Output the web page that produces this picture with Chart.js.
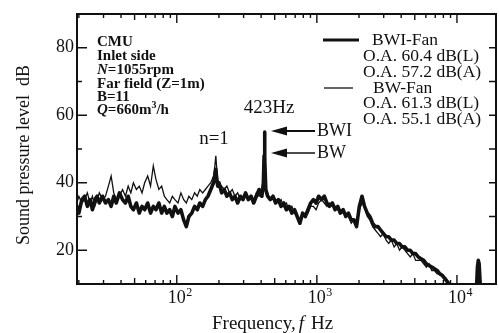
<!DOCTYPE html>
<html><head><meta charset="utf-8">
<script src="https://cdn.jsdelivr.net/npm/chart.js@4.4.1/dist/chart.umd.min.js"></script>
<style>html,body{margin:0;padding:0;background:#fff}#wrap{width:499px;height:333px}</style>
</head><body><div id="wrap"><canvas id="c" width="499" height="333"></canvas></div>
<script>
// ---- data ----
const freqs = [
  19, 20, 21, 22, 23, 24, 25, 26, 27, 28,
  29.5, 31, 32.5, 34, 35.5, 37, 39, 41, 43, 45,
  47, 49, 51.5, 54, 56.5, 59, 62, 65, 68, 71,
  74.5, 78, 81.5, 85, 89, 93, 97, 102, 107, 112,
  117, 122, 128, 134, 140, 146, 153, 160, 167, 175,
  183, 187, 190, 193, 196, 200, 209, 218, 228, 238,
  249, 260, 272, 284, 297, 310, 324, 339, 354, 370,
  387, 405, 415, 420, 423, 426, 432, 445, 465, 486,
  508, 531, 555, 580, 606, 634, 663, 693, 724, 757,
  791, 827, 864, 903, 944, 987, 1030, 1080, 1130, 1180,
  1230, 1290, 1350, 1410, 1470, 1540, 1610, 1680, 1760, 1840,
  1920, 2010, 2100, 2190, 2290, 2390, 2500, 2610, 2730, 2850,
  2980, 3120, 3260, 3400, 3560, 3720, 3890, 4060, 4250, 4440,
  4640, 4850, 5070, 5300, 5540, 5790, 6050, 6320, 6610, 6910,
  7220, 7550, 7890, 8250, 8620, 9000, 9500, 13500, 13800, 14000,
  14200, 14400, 14700, 16000
];
// BWI-Fan (thick line)
const bwiFan = [
  34, 31, 35, 36, 33, 35, 32, 35, 36, 34,
  36, 34, 35, 33, 36, 34, 37, 35, 34, 36,
  33, 32, 34, 31, 33, 32, 34, 31, 33, 32,
  34, 31, 33, 31, 32, 30, 33, 31, 32, 29,
  27, 30, 31, 33, 32, 34, 33, 35, 36, 38,
  40, 42, 44, 41, 39, 40, 37, 38, 36, 37,
  35, 36, 34, 36, 35, 37, 35, 36, 34, 36,
  38, 36, 40, 48, 55, 47, 38, 36, 35, 36,
  34, 35, 33, 34, 32, 33, 31, 32, 30, 28,
  31, 30, 32, 34, 35, 34, 36, 35, 36, 34,
  33, 34, 32, 33, 31, 32, 30, 31, 29, 29,
  27, 33, 36, 33, 31, 30, 28, 27, 27, 26,
  25, 24, 24, 23, 23, 22, 22, 21, 21, 20,
  20, 19, 19, 18, 17.5, 17, 16, 15.5, 15, 14.5,
  14, 13, 12.5, 11.5, 10.5, 9, 8, 8, 9, 15,
  17, 16, 9, 7
];
// BW-Fan (thin line)
const bwFan = [
  33, 36, 34, 35, 37, 34, 36, 33, 35, 37,
  35, 36, 39, 42, 37, 35, 36, 38, 36, 39,
  37, 40, 38, 39, 37, 40, 42, 39, 45, 41,
  38, 39, 36, 35, 34, 36, 35, 34, 37, 35,
  34, 36, 35, 37, 36, 38, 37, 38, 39, 40,
  42, 45, 48, 44, 41, 40, 39, 38, 39, 37,
  38, 36, 37, 35, 36, 37, 35, 36, 35, 37,
  36, 37, 40, 45, 49, 44, 38, 37, 35, 36,
  35, 34, 35, 33, 34, 32, 33, 31, 30, 29,
  30, 31, 31, 33, 33, 32, 34, 35, 34, 33,
  34, 33, 33, 32, 32, 31, 31, 30, 28, 29,
  29, 32, 34, 33, 30, 29, 27, 26, 25, 24,
  25, 23, 22, 23, 21, 22, 20, 21, 20, 19,
  18, 19, 17, 17, 17, 16, 15, 16, 14, 14,
  13, 13, 12, 11, 10, 9, 8, 8, 9, 13,
  16, 15, 9, 7
];
const yTickLabels = [20, 40, 60, 80];
const xTickDecades = [100, 1000, 10000];
const xTickExponents = ['2', '3', '4'];
const legendLines = [
  ['BWI-Fan', 'O.A. 60.4 dB(L)', 'O.A. 57.2 dB(A)'],
  ['BW-Fan', 'O.A. 61.3 dB(L)', 'O.A. 55.1 dB(A)']
];

const INK = '#111';
const SERIF = '"Liberation Serif", "Times New Roman", serif';

function line(ctx, x1, y1, x2, y2) { ctx.moveTo(x1, y1); ctx.lineTo(x2, y2); }

function drawSegments(ctx, segs, x, y) {
  let cx = x;
  segs.forEach(s => {
    ctx.font = s.font;
    ctx.fillText(s.t, cx, y + (s.dy || 0));
    cx += ctx.measureText(s.t).width + (s.after || 0);
  });
}

function arrow(ctx, tipX, y, tailX, lw) {
  ctx.beginPath();
  ctx.lineWidth = lw;
  line(ctx, tipX + 10, y, tailX, y);
  ctx.stroke();
  ctx.beginPath();
  ctx.moveTo(tipX, y);
  ctx.lineTo(tipX + 16, y - 4.5);
  ctx.lineTo(tipX + 16, y + 4.5);
  ctx.closePath();
  ctx.fill();
}

const decor = {
  id: 'decor',
  afterDraw(chart) {
    const ctx = chart.ctx, a = chart.chartArea, xs = chart.scales.x, ys = chart.scales.y;
    ctx.save();
    ctx.strokeStyle = INK; ctx.fillStyle = INK;
    // frame
    ctx.lineWidth = 2;
    ctx.strokeRect(a.left, a.top, a.right - a.left, a.bottom - a.top);
    // x ticks (inward, bottom and top)
    ctx.lineWidth = 1.4;
    ctx.beginPath();
    [10, 100, 1000, 10000].forEach(d => {
      for (let k = 1; k <= 9; k++) {
        const f = k * d;
        if (f <= xs.min || f >= xs.max) continue;
        const px = xs.getPixelForValue(f);
        const len = k === 1 ? 9 : (k === 5 ? 6 : 4);
        line(ctx, px, a.bottom, px, a.bottom - len);
        line(ctx, px, a.top, px, a.top + len);
      }
    });
    // y ticks
    for (let v = 20; v <= 80; v += 10) {
      const py = ys.getPixelForValue(v);
      const len = v % 20 === 0 ? 10 : 5;
      line(ctx, a.left, py, a.left + len, py);
      line(ctx, a.right, py, a.right - 7, py);
    }
    ctx.stroke();

    // x tick labels with superscripts
    ctx.textBaseline = 'alphabetic';
    xTickDecades.forEach((d, i) => {
      const px = xs.getPixelForValue(d);
      ctx.font = '18px ' + SERIF;
      ctx.textAlign = 'center';
      ctx.fillText('10', px, 303);
      const w = ctx.measureText('10').width;
      ctx.font = '12px ' + SERIF;
      ctx.textAlign = 'left';
      ctx.fillText(xTickExponents[i], px + w / 2 + 0.5, 296);
    });

    // x axis title
    ctx.textAlign = 'left';
    drawSegments(ctx, [
      { t: 'Frequency,', font: '19px ' + SERIF, after: 3 },
      { t: 'f', font: 'italic 19px ' + SERIF, after: 7 },
      { t: 'Hz', font: '19px ' + SERIF }
    ], 212, 329);

    // y axis title
    ctx.save();
    ctx.translate(24, 155);
    ctx.rotate(-Math.PI / 2);
    ctx.font = '18px ' + SERIF;
    ctx.textAlign = 'center';
    ctx.textBaseline = 'middle';
    ctx.fillText('Sound pressure level  dB', 0, 0);
    ctx.restore();

    // conditions block
    ctx.textAlign = 'left';
    ctx.textBaseline = 'middle';
    const B = 'bold 15px ' + SERIF, BI = 'italic bold 15px ' + SERIF;
    const x0 = 97;
    drawSegments(ctx, [{ t: 'CMU', font: B }], x0, 42);
    drawSegments(ctx, [{ t: 'Inlet side', font: B }], x0, 56);
    drawSegments(ctx, [{ t: 'N', font: BI }, { t: '=1055rpm', font: B }], x0, 70);
    drawSegments(ctx, [{ t: 'Far field (Z=1m)', font: B }], x0, 84);
    drawSegments(ctx, [{ t: 'B=11', font: B }], x0, 97);
    drawSegments(ctx, [{ t: 'Q', font: BI }, { t: '=660m', font: B },
      { t: '3', font: 'bold 10px ' + SERIF, dy: -5 }, { t: '/h', font: B }], x0, 110);

    // legend
    const L = '17.5px ' + SERIF;
    ctx.beginPath(); ctx.lineWidth = 3; line(ctx, 323, 40, 359, 40); ctx.stroke();
    ctx.beginPath(); ctx.lineWidth = 1.3; line(ctx, 324, 88, 353, 88); ctx.stroke();
    ctx.font = L;
    ctx.fillText(legendLines[0][0], 372, 40);
    ctx.fillText(legendLines[0][1], 363, 56);
    ctx.fillText(legendLines[0][2], 363, 72);
    ctx.fillText(legendLines[1][0], 373, 88);
    ctx.fillText(legendLines[1][1], 363, 103);
    ctx.fillText(legendLines[1][2], 363, 119);

    // peak annotations
    ctx.font = '19px ' + SERIF;
    ctx.textAlign = 'center';
    ctx.fillText('423Hz', 269, 108);
    ctx.fillText('n=1', 214, 139);
    arrow(ctx, 271, 131, 315, 2);
    arrow(ctx, 271, 153, 315, 1.5);
    ctx.textAlign = 'left';
    ctx.font = '18px ' + SERIF;
    ctx.fillText('BWI', 317, 131);
    ctx.fillText('BW', 317, 153);
    ctx.restore();
  }
};

new Chart(document.getElementById('c'), {
  type: 'line',
  data: {
    datasets: [
      { label: 'BWI-Fan', data: freqs.map((f, i) => ({ x: f, y: bwiFan[i] })),
        borderColor: INK, borderWidth: 3.6, pointRadius: 0, tension: 0, borderJoinStyle: 'round' },
      { label: 'BW-Fan', data: freqs.map((f, i) => ({ x: f, y: bwFan[i] })),
        borderColor: INK, borderWidth: 1.3, pointRadius: 0, tension: 0 }
    ]
  },
  options: {
    responsive: false, animation: false, devicePixelRatio: 1,
    layout: { padding: { top: 14, right: 3, left: 0, bottom: 0 } },
    plugins: { legend: { display: false }, tooltip: { enabled: false } },
    scales: {
      x: { type: 'logarithmic', min: 19.4, max: 19000,
        grid: { display: false, drawTicks: false }, border: { display: false },
        ticks: { display: false },
        afterFit: s => { s.height = 49; } },
      y: { type: 'linear', min: 10, max: 90,
        grid: { display: false, drawTicks: false }, border: { display: false },
        afterBuildTicks: s => { s.ticks = yTickLabels.map(v => ({ value: v })); },
        ticks: { color: INK, padding: 3, font: { family: SERIF, size: 18 } },
        afterFit: s => { s.width = 77; } }
    }
  },
  plugins: [decor]
});
</script>
</body></html>
